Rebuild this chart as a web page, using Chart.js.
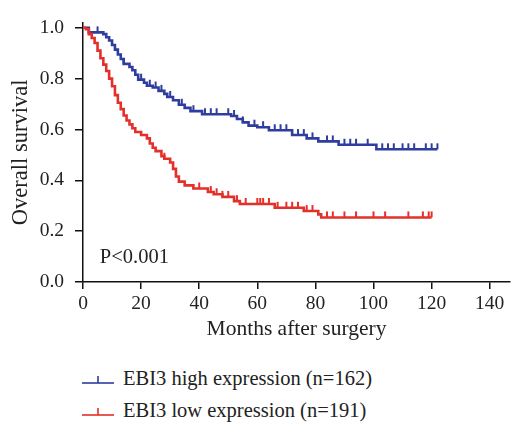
<!DOCTYPE html>
<html>
<head>
<meta charset="utf-8">
<script src="https://cdn.jsdelivr.net/npm/chart.js@4.4.0/dist/chart.umd.min.js"></script>
<style>
  body { margin: 0; background: #fff; width: 517px; height: 430px; overflow: hidden;
         font-family: "Liberation Serif", "Times New Roman", serif; }
  #wrap { position: relative; width: 517px; height: 342px; }
  .legend { position: absolute; left: 82px; font-size: 20.5px; color: #222; white-space: nowrap; }
  .legend svg { vertical-align: middle; margin-right: 9px; }
</style>
</head>
<body>
<div id="wrap"><canvas id="km" width="517" height="342"></canvas></div>
<div class="legend" style="top:367px">
  <svg width="32" height="14"><line x1="0" y1="10" x2="32" y2="10" stroke="#2f3d9e" stroke-width="1.6"/><line x1="16" y1="3" x2="16" y2="10" stroke="#2f3d9e" stroke-width="1.6"/></svg>EBI3 high expression (n=162)
</div>
<div class="legend" style="top:399px">
  <svg width="32" height="14"><line x1="0" y1="10" x2="32" y2="10" stroke="#e3302a" stroke-width="1.6"/><line x1="16" y1="3" x2="16" y2="10" stroke="#e3302a" stroke-width="1.6"/></svg>EBI3 low expression (n=191)
</div>
<script>
// EBI3 high expression - event times (months) and survival after each step
const highTimes = [0, 2, 7, 8, 9, 10, 11, 12, 13, 14, 16, 17, 18, 19, 21, 22, 24, 26, 28, 29, 31, 33, 35, 37, 41, 51, 53, 55, 57, 60, 64, 72, 77, 81, 88, 101, 122];
const highSurv  = [1.0, 0.982, 0.975, 0.963, 0.950, 0.932, 0.914, 0.895, 0.877, 0.858, 0.846, 0.833, 0.815, 0.796, 0.784, 0.772, 0.765, 0.752, 0.740, 0.728, 0.715, 0.697, 0.685, 0.672, 0.660, 0.653, 0.641, 0.628, 0.615, 0.609, 0.597, 0.578, 0.565, 0.553, 0.540, 0.522, 0.522];
const highCensor = [5, 14, 20, 23, 25, 27, 30, 34, 38, 42, 44, 46, 50, 52, 55, 59, 62, 66, 68, 70, 74, 76, 79, 84, 86, 90, 92, 94, 98, 103, 105, 107, 110, 112, 114, 118, 120, 122];

// EBI3 low expression
const lowTimes = [0, 1, 2, 3, 4, 5, 6, 7, 8, 9, 10, 11, 12, 13, 14, 15, 16, 17, 18, 20, 22, 23, 24, 25, 27, 28, 30, 31, 32, 33, 35, 38, 43, 45, 48, 52, 54, 66, 76, 81, 82, 120];
const lowSurv  = [1.0, 0.994, 0.975, 0.96, 0.94, 0.91, 0.88, 0.855, 0.83, 0.80, 0.77, 0.735, 0.705, 0.68, 0.655, 0.635, 0.62, 0.605, 0.59, 0.578, 0.565, 0.545, 0.528, 0.515, 0.495, 0.485, 0.47, 0.445, 0.415, 0.395, 0.38, 0.368, 0.354, 0.345, 0.335, 0.318, 0.307, 0.292, 0.279, 0.266, 0.254, 0.254];
const lowCensor = [28, 40, 44, 46, 48, 50, 53, 56, 60, 61, 62, 64, 67, 70, 72, 74, 77, 79, 84, 86, 90, 94, 100, 104, 112, 117, 119, 120];

const xTicks = [0, 20, 40, 60, 80, 100, 120, 140];
const yTicks = [0.0, 0.2, 0.4, 0.6, 0.8, 1.0];

const blue = '#2f3d9e';
const red = '#e3302a';
const fontFamily = '"Liberation Serif", "Times New Roman", serif';

function stepValue(times, surv, t) {
  let v = surv[0];
  for (let i = 0; i < times.length; i++) {
    if (times[i] <= t) v = surv[i];
  }
  return v;
}

// censor tick: short vertical stroke sitting on top of the curve
function censorMark(color) {
  const c = document.createElement('canvas');
  c.width = 4; c.height = 14;
  const g = c.getContext('2d');
  g.strokeStyle = color;
  g.lineWidth = 2;
  g.beginPath();
  g.moveTo(2, 1);
  g.lineTo(2, 7);
  g.stroke();
  return c;
}

function curve(times, surv) {
  return times.map((t, i) => ({ x: t, y: surv[i] }));
}
function censors(list, times, surv) {
  return list.map(t => ({ x: t, y: stepValue(times, surv, t) }));
}

const pLabel = { text: 'P<0.001', x: 5.8, y: 0.097 };

const pValuePlugin = {
  id: 'pValue',
  afterDatasetsDraw(chart) {
    const { ctx, scales } = chart;
    ctx.save();
    ctx.font = '20.5px ' + fontFamily;
    ctx.fillStyle = '#222';
    ctx.textBaseline = 'middle';
    ctx.fillText(pLabel.text, scales.x.getPixelForValue(pLabel.x), scales.y.getPixelForValue(pLabel.y));
    ctx.restore();
  }
};

const ctx = document.getElementById('km').getContext('2d');
new Chart(ctx, {
  type: 'line',
  data: {
    datasets: [
      {
        label: 'EBI3 low expression (n=191)',
        data: curve(lowTimes, lowSurv),
        borderColor: red,
        borderWidth: 2.6,
        stepped: true,
        pointRadius: 0,
        fill: false
      },
      {
        label: 'low censored',
        data: censors(lowCensor, lowTimes, lowSurv),
        showLine: false,
        pointStyle: censorMark(red),
        pointRadius: 6
      },
      {
        label: 'EBI3 high expression (n=162)',
        data: curve(highTimes, highSurv),
        borderColor: blue,
        borderWidth: 2.6,
        stepped: true,
        pointRadius: 0,
        fill: false
      },
      {
        label: 'high censored',
        data: censors(highCensor, highTimes, highSurv),
        showLine: false,
        pointStyle: censorMark(blue),
        pointRadius: 6
      }
    ]
  },
  options: {
    responsive: false,
    animation: false,
    maintainAspectRatio: false,
    layout: { padding: { top: 8, right: 0, left: 0, bottom: 0 } },
    plugins: {
      legend: { display: false },
      tooltip: { enabled: false }
    },
    scales: {
      x: {
        type: 'linear',
        min: 0,
        max: 147,
        afterBuildTicks: axis => { axis.ticks = xTicks.map(v => ({ value: v })); },
        afterFit: axis => { axis.height = 60; },
        border: { color: '#111', width: 1.5 },
        grid: { drawOnChartArea: false, drawTicks: true, tickLength: 7, color: '#111', lineWidth: 1.5 },
        ticks: { color: '#222', padding: 3, maxRotation: 0, font: { family: fontFamily, size: 19.5 } },
        title: {
          display: true,
          text: 'Months after surgery',
          color: '#222',
          padding: { top: 0, bottom: 0 },
          font: { family: fontFamily, size: 21.5 }
        }
      },
      y: {
        min: 0,
        max: 1.02,
        afterBuildTicks: axis => { axis.ticks = yTicks.map(v => ({ value: v })); },
        afterFit: axis => { axis.width = 83; },
        border: { color: '#111', width: 1.5 },
        grid: { drawOnChartArea: false, drawTicks: true, tickLength: 8, color: '#111', lineWidth: 1.5 },
        ticks: { color: '#222', padding: 11, callback: v => v.toFixed(1), font: { family: fontFamily, size: 19.5 } },
        title: {
          display: true,
          text: 'Overall survival',
          color: '#222',
          padding: { top: 8, bottom: 0 },
          font: { family: fontFamily, size: 22.5 }
        }
      }
    }
  },
  plugins: [pValuePlugin]
});
</script>
</body>
</html>
